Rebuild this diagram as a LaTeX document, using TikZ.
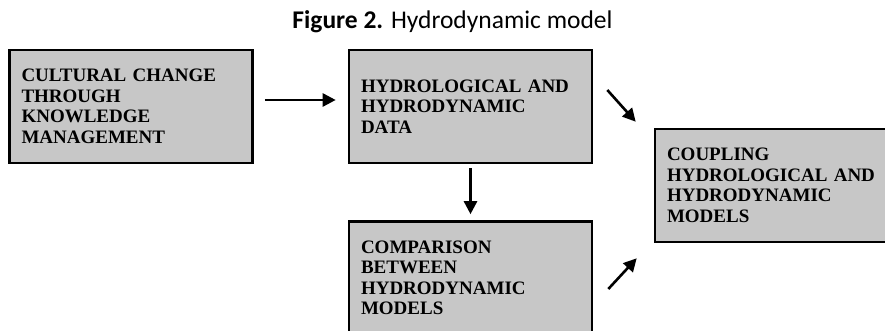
\documentclass[tikz,border=0pt]{standalone}
\usepackage{fontspec}
\setmainfont{Liberation Serif}
\newfontfamily\titlefont{Carlito}
\usetikzlibrary{arrows.meta}
\usepackage{xcolor}
\definecolor{boxgray}{RGB}{199,199,199}

\begin{document}
\begin{tikzpicture}[
    x=1pt, y=-1pt,
    box/.style={draw, fill=boxgray, line width=2.6pt, minimum width=243pt, minimum height=113pt,
        text width=219pt, inner xsep=12pt, align=left,
        font=\fontsize{19}{20.5}\selectfont\bfseries},
    flow/.style={line width=2.6pt, -{Triangle[length=13pt,width=13pt]}}
]
\useasboundingbox (0,0) rectangle (885,331);

\node[font=\titlefont\fontsize{25.5}{28}\selectfont, anchor=base] (title) at (452.5,29) {\textbf{Figure 2.} Hydrodynamic model};

\node[box] (cult) at (131,106.5) {CULTURAL CHANGE\\THROUGH\\KNOWLEDGE\\MANAGEMENT};
\node[box] (data) at (470.5,106.5) {HYDROLOGICAL AND\\HYDRODYNAMIC\\DATA};
\node[box] (comp) at (470.5,278) {COMPARISON\\BETWEEN\\HYDRODYNAMIC\\MODELS};
\node[box] (coup) at (776.5,185.5) {COUPLING\\HYDROLOGICAL AND\\HYDRODYNAMIC\\MODELS};

\draw[flow, shorten <=11pt, shorten >=12pt] ([yshift=6.5pt]cult.east) -- ([yshift=6.5pt]data.west);
\draw[flow, shorten <=4pt, shorten >=6pt] (data.south) -- (comp.north);
\draw[flow] ([xshift=14pt,yshift=16.5pt]data.east) -- ([xshift=-18pt,yshift=6pt]coup.north west);
\draw[flow] ([xshift=15pt,yshift=-11pt]comp.east) -- ([xshift=-17pt,yshift=-15pt]coup.south west);

\end{tikzpicture}
\end{document}
